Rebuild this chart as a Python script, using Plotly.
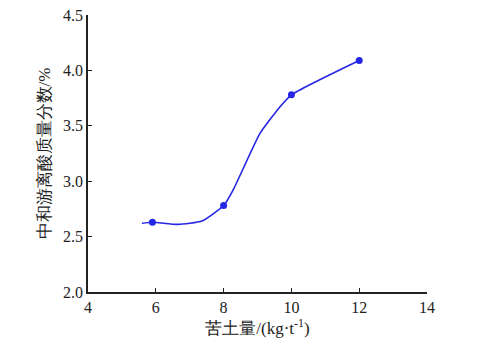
import plotly.graph_objects as go

# measured points (markers)
x_pts = [5.9, 8, 10, 12]
y_pts = [2.63, 2.78, 3.78, 4.09]

# fitted curve
x_curve = [5.59, 5.9, 6.65, 7.36, 8.0, 8.28, 9.07, 9.66, 10.0, 12.0]
y_curve = [2.62, 2.63, 2.61, 2.64, 2.78, 2.92, 3.43, 3.67, 3.78, 4.09]

x_ticks = [4, 6, 8, 10, 12, 14]
y_ticks = [2.0, 2.5, 3.0, 3.5, 4.0, 4.5]
y_tick_text = ["2.0", "2.5", "3.0", "3.5", "4.0", "4.5"]

x_title = "苦土量/(kg·t<sup>-1</sup>)"
y_title = "中和游离酸质量分数/%"

color = "#2626e6"
font_family = "'Times New Roman', 'Liberation Serif', serif"

fig = go.Figure()
fig.add_trace(go.Scatter(x=x_curve, y=y_curve, mode="lines",
                         line=dict(color=color, width=1.6, shape="spline", smoothing=0.5),
                         hoverinfo="skip", showlegend=False))
fig.add_trace(go.Scatter(x=x_pts, y=y_pts, mode="markers",
                         marker=dict(color=color, size=7),
                         showlegend=False))

fig.update_layout(
    width=483, height=346,
    margin=dict(l=88, r=56, t=15, b=54),
    paper_bgcolor="white", plot_bgcolor="white",
    font=dict(family=font_family, size=16, color="#222"),
    xaxis=dict(range=[4, 14], tickvals=x_ticks, showgrid=False, zeroline=False,
               showline=True, linecolor="#222", linewidth=1.5, automargin=False,
               ticks="inside", ticklen=4, tickcolor="#222",
               title=dict(text=x_title, font=dict(size=17), standoff=4)),
    yaxis=dict(range=[2.0, 4.5], tickvals=y_ticks, ticktext=y_tick_text,
               showgrid=False, zeroline=False, automargin=False,
               showline=True, linecolor="#222", linewidth=1.5,
               ticks="inside", ticklen=4, tickcolor="#222",
               title=dict(text=y_title, font=dict(size=17), standoff=8)),
)

fig.write_html("out.html", config={"displayModeBar": False},
               post_script="document.body.style.margin='0';")
